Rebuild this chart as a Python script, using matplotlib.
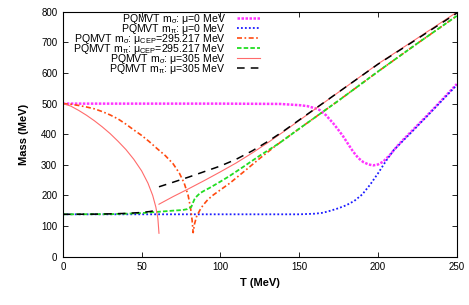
import matplotlib
matplotlib.use("Agg")
import matplotlib.pyplot as plt

plt.rcParams['font.family'] = ['Liberation Sans', 'DejaVu Sans']
plt.rcParams['mathtext.fontset'] = 'custom'
plt.rcParams['mathtext.rm'] = 'Liberation Sans'
plt.rcParams['mathtext.it'] = 'Liberation Sans'
plt.rcParams['mathtext.bf'] = 'Liberation Sans:bold'

# sigma, mu = 0
t_sig0 = [0, 50, 100, 137.7, 150, 155, 160, 163, 167, 171.5, 175, 178, 181, 184.2, 187.5,
          190.6, 194, 196.9, 200, 203.2, 207.5, 212, 216, 220, 230, 240, 250]
m_sig0 = [500, 500, 500, 499, 495, 492, 485, 479, 462, 436, 413, 392, 368, 343, 322,
          309, 301, 298, 301, 310, 332, 360, 382, 403, 455, 509, 564]

# pion, mu = 0
t_pi0 = [0, 100, 150, 160, 165, 170, 175, 180, 185, 190, 195, 200, 205, 210, 215, 220, 230, 240, 250]
m_pi0 = [138, 138, 138, 140, 143, 150, 158, 168, 182, 203, 235, 272, 312, 348, 374, 400, 453, 507, 561]

# sigma, mu_CEP
t_sigc = [0, 5, 10, 15, 20, 25, 30, 35, 40, 45, 50, 55, 60, 65, 70, 74, 77, 79.5, 81, 82, 82.7,
          83.5, 84.8, 87, 89, 92, 95.4, 100, 106, 115, 125, 135, 150, 175, 200, 225, 250]
m_sigc = [500, 498, 494, 489, 483, 474, 463, 450, 433, 414, 396, 375, 352, 330, 303, 272, 240, 200, 160, 120, 78,
          105, 130, 152, 168, 186, 201, 218, 240, 278, 321, 362, 418, 510, 605, 697, 787]

# pion, mu_CEP
t_pic = [0, 30, 40, 50, 60, 70, 76, 79, 81.5, 82.5, 83.5, 85, 87, 90, 93, 100, 106, 115, 125,
         137.7, 150, 175, 200, 225, 250]
m_pic = [138, 138.5, 140, 142, 146, 150, 152, 155, 162, 175, 187, 197, 207, 216, 224, 245, 264, 295, 330,
         372, 418, 510, 605, 697, 787]

# sigma, mu = 305 (two branches)
t_sig305a = [0, 5, 10, 15, 20, 25, 30, 35, 40, 45, 50, 54, 57, 59, 60.3, 61]
m_sig305a = [500, 492, 478, 462, 444, 424, 402, 377, 350, 318, 280, 240, 200, 162, 125, 76]
t_sig305b = [61, 70, 80, 90, 100, 110, 120, 130, 140, 160, 180, 200, 225, 250]
m_sig305b = [171, 196, 222, 249, 277, 306, 338, 372, 408, 482, 556, 630, 714, 799]

# pion, mu = 305 (two branches)
t_pi305a = [0, 20, 30, 40, 50, 55, 60.5]
m_pi305a = [138, 138.5, 139.5, 141, 144, 147, 152]
t_pi305b = [61, 70, 80, 90, 100, 110, 120, 130, 140, 160, 180, 200, 225, 250]
m_pi305b = [228, 243, 260, 278, 296, 318, 345, 376, 410, 483, 556, 629, 712, 796]

labels = [r'PQMVT m$_{σ}$: μ=0 MeV',
          r'PQMVT m$_{π}$: μ=0 MeV',
          r'PQMVT m$_{σ}$: μ$_{CEP}$=295.217 MeV',
          r'PQMVT m$_{π}$: μ$_{CEP}$=295.217 MeV',
          r'PQMVT m$_{σ}$: μ=305 MeV',
          r'PQMVT m$_{π}$: μ=305 MeV']

styles = [dict(color='#ff33ff', lw=1.8, ls=(0, (1, 0.6))),
          dict(color='#1a1aff', lw=1.3, ls=(0, (1, 1.2))),
          dict(color='#ff4a10', lw=1.2, ls=(0, (3, 1.5, 1, 1.5))),
          dict(color='#22dd22', lw=1.3, ls=(0, (2.5, 1.2))),
          dict(color='#ff6b6b', lw=0.8, ls='-'),
          dict(color='black', lw=1.1, ls=(0, (5, 4)))]

fig = plt.figure(figsize=(4.69, 3.05), dpi=100)
ax = fig.add_axes([0.134, 0.159, 0.840, 0.802])

ax.plot(t_sig0, m_sig0, **styles[0])
ax.plot(t_pi0, m_pi0, **styles[1])
ax.plot(t_sigc, m_sigc, **styles[2])
ax.plot(t_pic, m_pic, **styles[3])
ax.plot(t_sig305a, m_sig305a, **styles[4])
ax.plot(t_sig305b, m_sig305b, **styles[4])
ax.plot(t_pi305a, m_pi305a, **styles[5])
ax.plot(t_pi305b, m_pi305b, **styles[5])

ax.set_xlim(0, 250)
ax.set_ylim(0, 800)
ax.set_xticks(range(0, 251, 50))
ax.set_yticks(range(0, 801, 100))
ax.tick_params(direction='in', top=True, right=True, length=3.5, width=0.6,
               labelsize=7, pad=4, colors='black')
for s in ax.spines.values():
    s.set_linewidth(0.8)

ax.set_xlabel('T (MeV)', fontsize=8, fontweight='bold', labelpad=4)
ax.set_ylabel('Mass (MeV)', fontsize=8, fontweight='bold', labelpad=9)

# gnuplot-style key: text right aligned, sample line on the right
for i, (lab, st) in enumerate(zip(labels, styles)):
    yc = 0.9755 - i * 0.0409
    ax.text(0.4137, yc - 0.015, lab, transform=ax.transAxes, ha='right', va='baseline',
            fontsize=7.6)
    ax.plot([0.4416, 0.5], [yc, yc], transform=ax.transAxes, clip_on=False, **st)

fig.savefig('out.png', dpi=100)
